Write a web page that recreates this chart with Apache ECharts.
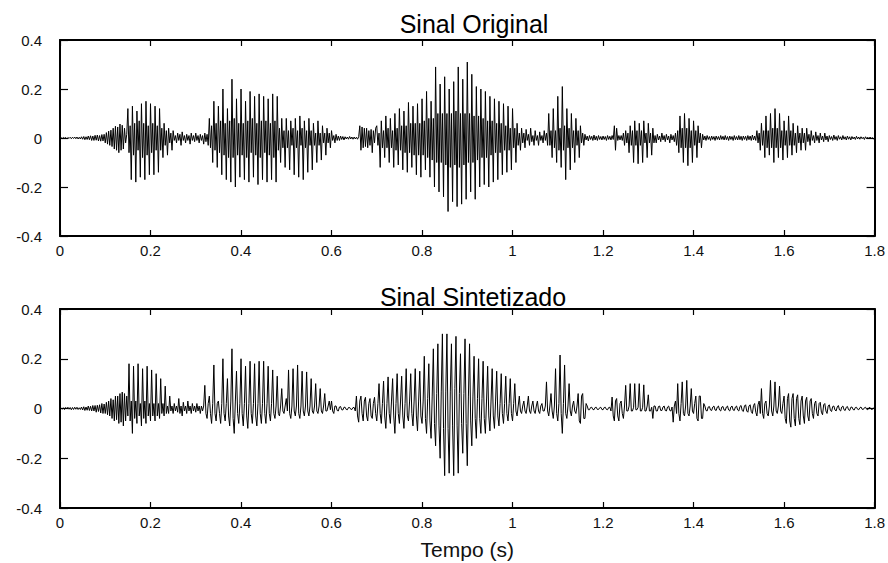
<!DOCTYPE html>
<html><head><meta charset="utf-8">
<script src="https://cdn.jsdelivr.net/npm/echarts@6/dist/echarts.min.js"></script>
<style>html,body{margin:0;padding:0;background:#fff}#chart{width:888px;height:563px}</style>
</head><body><div id="chart"></div>
<script>
// Sample spacing of the waveforms (s)
const sampleStep = 0.0025;

// Amplitude of the original speech signal (one row = 0.05 s)
const originalSignal = [
  0, 0.001, -0.002, 0.002, -0.001, 0.002, -0.003, 0.002, -0.002, 0.003, -0.003, 0.003, -0.002, 0.004, -0.003, 0.004, -0.004, 0.003, -0.004, 0.005,
  -0.005, 0.006, -0.007, 0.005, -0.006, 0.008, -0.007, 0.009, -0.01, 0.008, -0.01, 0.011, -0.009, 0.012, -0.012, 0.01, -0.013, 0.014, -0.012, 0.015,
  -0.02, 0.022, -0.025, 0.028, -0.03, 0.032, -0.035, 0.04, -0.045, 0.048, -0.05, 0.045, -0.06, 0.057, -0.05, 0.052, -0.045, 0.04, -0.02, 0.015,
  0.12, -0.06, 0.05, -0.17, 0.13, -0.07, 0.06, -0.18, 0.11, -0.05, 0.07, -0.16, 0.14, -0.08, 0.06, -0.17, 0.15, -0.07, 0.05, -0.15,
  0.14, -0.06, 0.06, -0.15, 0.13, -0.05, 0.05, -0.14, 0.12, -0.05, 0.04, -0.08, 0.06, -0.03, 0.03, -0.07, 0.04, -0.02, 0.02, -0.05,
  0.03, -0.01, 0.01, -0.02, 0.02, -0.01, 0.015, -0.03, 0.025, -0.01, 0.01, -0.02, 0.015, -0.01, 0.01, -0.025, 0.02, -0.01, 0.01, -0.015,
  0.02, -0.01, 0.01, -0.02, 0.015, -0.01, 0.01, -0.025, 0.02, -0.015, 0.015, -0.03, 0.08, -0.04, 0.05, -0.1, 0.15, -0.05, 0.06, -0.12,
  0.13, -0.06, 0.07, -0.15, 0.2, -0.07, 0.06, -0.17, 0.12, -0.08, 0.07, -0.18, 0.24, -0.08, 0.08, -0.2, 0.16, -0.07, 0.06, -0.16,
  0.2, -0.07, 0.06, -0.17, 0.15, -0.08, 0.07, -0.18, 0.19, -0.06, 0.08, -0.16, 0.17, -0.07, 0.06, -0.19, 0.18, -0.08, 0.07, -0.17,
  0.17, -0.06, 0.07, -0.18, 0.16, -0.07, 0.06, -0.17, 0.18, -0.08, 0.07, -0.18, 0.17, -0.05, 0.04, -0.1, 0.08, -0.04, 0.03, -0.12,
  0.08, -0.04, 0.03, -0.13, 0.07, -0.03, 0.04, -0.15, 0.08, -0.04, 0.03, -0.16, 0.09, -0.03, 0.04, -0.17, 0.07, -0.04, 0.03, -0.14,
  0.08, -0.03, 0.03, -0.13, 0.06, -0.03, 0.02, -0.1, 0.07, -0.03, 0.02, -0.09, 0.05, -0.02, 0.02, -0.07, 0.04, -0.02, 0.02, -0.04,
  0.03, -0.01, 0.01, -0.02, 0.015, -0.01, 0.008, -0.01, 0.008, -0.006, 0.006, -0.008, 0.005, -0.004, 0.004, -0.005, 0.006, -0.004, 0.004, -0.005,
  0.004, -0.004, 0.003, -0.005, 0.005, 0.05, -0.05, 0.045, -0.04, 0.04, -0.035, 0.04, -0.04, 0.03, -0.03, 0.035, -0.06, 0.03, -0.02, 0.04,
  0.05, -0.03, 0.02, -0.12, 0.07, -0.04, 0.03, -0.08, 0.09, -0.04, 0.04, -0.1, 0.08, -0.04, 0.03, -0.12, 0.1, -0.05, 0.04, -0.11,
  0.12, -0.05, 0.05, -0.13, 0.11, -0.06, 0.05, -0.14, 0.145, -0.06, 0.06, -0.12, 0.13, -0.07, 0.06, -0.15, 0.14, -0.07, 0.06, -0.16,
  0.16, -0.07, 0.07, -0.13, 0.19, -0.08, 0.08, -0.16, 0.15, -0.09, 0.08, -0.2, 0.29, -0.1, 0.1, -0.22, 0.22, -0.1, 0.1, -0.24,
  0.25, -0.11, 0.1, -0.3, 0.2, -0.12, 0.1, -0.26, 0.23, -0.11, 0.11, -0.28, 0.29, -0.12, 0.1, -0.27, 0.24, -0.11, 0.1, -0.25,
  0.31, -0.1, 0.1, -0.22, 0.26, -0.1, 0.09, -0.25, 0.21, -0.09, 0.09, -0.2, 0.2, -0.08, 0.08, -0.19, 0.19, -0.08, 0.07, -0.2,
  0.17, -0.07, 0.07, -0.18, 0.16, -0.06, 0.06, -0.17, 0.15, -0.06, 0.06, -0.15, 0.14, -0.05, 0.05, -0.14, 0.13, -0.05, 0.04, -0.13,
  0.12, -0.04, 0.04, -0.1, 0.06, -0.03, 0.02, -0.05, 0.04, -0.02, 0.02, -0.04, 0.035, -0.01, 0.015, -0.03, 0.04, -0.015, 0.01, -0.03,
  0.03, -0.01, 0.01, -0.03, 0.025, -0.01, 0.01, -0.02, 0.03, -0.01, 0.02, -0.03, 0.1, -0.03, 0.03, -0.08, 0.12, -0.04, 0.03, -0.1,
  0.17, -0.05, 0.04, -0.12, 0.21, -0.05, 0.05, -0.17, 0.12, -0.04, 0.04, -0.13, 0.1, -0.04, 0.03, -0.1, 0.08, -0.03, 0.03, -0.08,
  0.05, -0.02, 0.02, -0.03, 0.015, -0.008, 0.008, -0.012, 0.01, -0.006, 0.007, -0.01, 0.012, -0.008, 0.007, -0.01, 0.01, -0.006, 0.006, -0.008,
  0.008, -0.006, 0.006, -0.01, 0.01, -0.006, 0.007, -0.008, 0.01, -0.006, 0.05, -0.05, 0.04, -0.01, 0.01, -0.008, 0.01, -0.01, 0.02, -0.03,
  0.03, -0.02, 0.02, -0.06, 0.05, -0.03, 0.03, -0.1, 0.07, -0.03, 0.03, -0.105, 0.06, -0.03, 0.03, -0.1, 0.07, -0.02, 0.02, -0.08,
  0.06, -0.02, 0.02, -0.07, 0.04, -0.02, 0.01, -0.02, 0.015, -0.008, 0.008, -0.015, 0.02, -0.008, 0.01, -0.015, 0.015, -0.008, 0.008, -0.02,
  0.015, -0.008, 0.01, -0.015, 0.02, -0.03, 0.03, -0.06, 0.09, -0.04, 0.04, -0.1, 0.1, -0.04, 0.04, -0.113, 0.08, -0.04, 0.03, -0.1,
  0.07, -0.03, 0.03, -0.08, 0.05, -0.02, 0.02, -0.04, 0.015, -0.008, 0.008, -0.01, 0.01, -0.006, 0.006, -0.01, 0.008, -0.006, 0.006, -0.01,
  0.008, -0.006, 0.006, -0.008, 0.01, -0.006, 0.007, -0.008, 0.01, -0.007, 0.006, -0.01, 0.008, -0.006, 0.006, -0.01, 0.01, -0.007, 0.006, -0.008,
  0.01, -0.007, 0.007, -0.01, 0.008, -0.006, 0.007, -0.01, 0.01, -0.007, 0.008, -0.01, 0.012, -0.008, 0.008, -0.01, 0.03, -0.02, 0.02, -0.05,
  0.06, -0.03, 0.03, -0.08, 0.09, -0.04, 0.03, -0.07, 0.1, -0.04, 0.04, -0.1, 0.12, -0.04, 0.04, -0.08, 0.1, -0.04, 0.03, -0.09,
  0.07, -0.03, 0.03, -0.08, 0.09, -0.03, 0.03, -0.07, 0.06, -0.03, 0.02, -0.06, 0.05, -0.02, 0.02, -0.05, 0.04, -0.02, 0.02, -0.05,
  0.04, -0.015, 0.015, -0.03, 0.03, -0.01, 0.01, -0.02, 0.025, -0.01, 0.01, -0.02, 0.02, -0.008, 0.008, -0.015, 0.02, -0.008, 0.008, -0.015,
  0.01, -0.006, 0.006, -0.01, 0.012, -0.006, 0.006, -0.01, 0.01, -0.005, 0.005, -0.008, 0.01, -0.005, 0.005, -0.008, 0.008, -0.005, 0.005, -0.008,
  0.006, -0.004, 0.004, -0.006, 0.007, -0.004, 0.004, -0.005, 0.005, -0.003, 0.003, -0.006, 0.005, -0.003, 0.003, -0.004, 0.004, -0.003, 0.002, -0.004,
  0
];

// Amplitude of the synthesized signal (one row = 0.05 s)
const synthSignal = [
  0, 0.002, -0.003, 0.003, -0.004, 0.004, -0.002, 0.005, -0.003, 0.004, -0.005, 0.004, -0.004, 0.005, -0.003, 0.005, -0.004, 0.003, -0.004, 0.006,
  -0.006, 0.007, -0.008, 0.006, -0.007, 0.01, -0.008, 0.009, -0.01, 0.012, -0.01, 0.012, -0.015, 0.013, -0.012, 0.015, -0.018, 0.02, -0.02, 0.018,
  -0.02, 0.025, -0.025, 0.03, -0.03, 0.04, -0.04, 0.035, -0.05, 0.05, -0.045, 0.05, -0.06, 0.06, -0.055, 0.066, -0.07, 0.06, -0.05, 0.05,
  -0.03, 0.18, -0.05, 0.03, -0.1, 0.17, -0.04, 0.03, -0.06, 0.18, -0.03, 0.02, -0.07, 0.16, -0.04, 0.03, -0.06, 0.17, -0.03, 0.02,
  -0.05, 0.155, -0.03, 0.02, -0.05, 0.14, -0.03, 0.02, -0.04, 0.12, -0.02, 0.02, -0.03, 0.09, -0.02, 0.01, -0.02, 0.05, -0.01, 0.01,
  -0.02, 0.02, -0.01, 0.01, -0.015, 0.04, -0.02, 0.01, -0.03, 0.025, -0.01, 0.01, -0.02, 0.03, -0.01, 0.01, -0.02, 0.02, -0.01, 0.01,
  -0.015, 0.02, -0.01, 0.01, -0.02, 0.01, -0.01, 0.01, 0.093, -0.02, -0.04, 0.02, 0.05, -0.02, -0.06, 0.02, 0.175, -0.02, -0.05, 0.02,
  0.03, -0.02, -0.06, 0.02, 0.2, -0.02, -0.05, 0.02, 0.12, -0.03, -0.07, 0.03, 0.24, -0.04, -0.1, 0.03, 0.15, -0.02, -0.06, 0.02,
  0.2, -0.02, -0.07, 0.02, 0.17, -0.03, -0.08, 0.02, 0.19, -0.02, -0.06, 0.02, 0.18, -0.03, -0.07, 0.02, 0.19, -0.02, -0.06, 0.02,
  0.19, -0.02, -0.06, 0.02, 0.17, -0.02, -0.05, 0.02, 0.155, -0.02, -0.04, 0.01, 0.13, -0.02, -0.03, 0.01, 0.08, -0.01, -0.02, 0.01,
  0.04, -0.01, 0.155, -0.02, -0.04, 0.01, 0.16, -0.01, -0.03, 0.01, 0.175, -0.02, -0.04, 0.01, 0.15, -0.01, -0.03, 0.01, 0.147, -0.01,
  -0.03, 0.01, 0.12, -0.01, -0.02, 0.01, 0.1, -0.01, -0.02, 0.01, 0.08, -0.01, -0.02, 0.01, 0.06, -0.01, -0.01, 0.01, 0.03, -0.005,
  0.03, -0.01, -0.02, 0.01, 0.01, -0.008, -0.01, 0.006, 0.008, -0.005, -0.006, 0.005, 0.005, -0.004, -0.005, 0.004, 0.004, -0.003, -0.004, 0.004,
  0.004, -0.01, 0.05, -0.03, -0.055, 0.03, 0.05, -0.02, -0.05, 0.03, 0.045, -0.03, -0.05, 0.02, 0.04, -0.03, -0.04, 0.02, 0.045, -0.02,
  -0.05, 0.02, 0.1, -0.02, -0.06, 0.02, 0.11, -0.03, -0.08, 0.02, 0.127, -0.02, -0.06, 0.03, 0.12, -0.03, -0.1, 0.02, 0.14, -0.02,
  -0.06, 0.03, 0.13, -0.03, -0.08, 0.02, 0.16, -0.03, -0.05, 0.03, 0.14, -0.02, -0.07, 0.03, 0.16, -0.03, -0.09, 0.03, 0.15, -0.03,
  -0.06, 0.03, 0.21, -0.04, -0.1, 0.04, 0.18, -0.05, -0.12, 0.05, 0.24, -0.06, -0.15, 0.06, 0.26, -0.07, -0.2, 0.07, 0.3, -0.08,
  -0.27, 0.07, 0.3, -0.08, -0.26, 0.07, 0.26, -0.07, -0.27, 0.08, 0.29, -0.07, -0.26, 0.06, 0.22, -0.06, -0.18, 0.06, 0.28, -0.06,
  -0.23, 0.05, 0.26, -0.05, -0.15, 0.05, 0.21, -0.04, -0.12, 0.04, 0.2, -0.04, -0.1, 0.04, 0.19, -0.04, -0.1, 0.03, 0.17, -0.03,
  -0.09, 0.03, 0.16, -0.03, -0.08, 0.03, 0.15, -0.03, -0.07, 0.02, 0.14, -0.02, -0.06, 0.02, 0.13, -0.02, -0.05, 0.02, 0.12, -0.02,
  -0.05, 0.02, 0.1, -0.01, -0.03, 0.01, 0.05, -0.01, -0.02, 0.01, 0.03, -0.01, -0.02, 0.01, 0.05, -0.01, -0.02, 0.01, 0.03, -0.01,
  -0.02, 0.01, 0.03, -0.01, -0.02, 0.01, 0.02, -0.01, -0.01, 0.01, 0.107, -0.01, -0.03, 0.01, 0.06, -0.01, -0.04, 0.01, 0.16, -0.02,
  -0.05, 0.02, 0.215, -0.02, -0.1, 0.02, 0.175, -0.02, -0.04, 0.01, 0.1, -0.01, -0.03, 0.01, 0.03, -0.01, -0.02, 0.01, 0.06, -0.05,
  -0.06, 0.05, 0.06, -0.04, -0.04, 0.02, 0.01, -0.005, -0.005, 0.004, 0.005, -0.004, -0.005, 0.004, 0.005, -0.004, -0.004, 0.003, 0.005, -0.004,
  -0.005, 0.004, 0.005, -0.004, -0.005, 0.004, 0.005, -0.01, 0.046, -0.03, -0.05, 0.03, 0.04, -0.03, -0.05, 0.02, 0.03, -0.02, -0.04, 0.01,
  0.093, -0.01, -0.01, 0.01, 0.1, -0.01, -0.01, 0.005, 0.1, -0.005, -0.005, 0.005, 0.1, -0.01, -0.01, 0.005, 0.095, -0.01, -0.01, 0.01,
  0.055, -0.01, -0.01, 0.005, -0.04, 0.01, 0.01, -0.01, -0.01, 0.008, 0.01, -0.008, -0.008, 0.006, 0.01, -0.008, -0.01, 0.006, 0.01, -0.008,
  -0.01, 0.006, -0.055, 0.01, 0.03, -0.02, 0.1, -0.02, -0.05, 0.02, 0.107, -0.02, -0.03, 0.01, 0.113, -0.02, -0.03, 0.01, 0.08, -0.01,
  -0.02, 0.02, 0.05, -0.04, -0.05, 0.05, 0.05, -0.04, -0.04, 0.02, 0.01, -0.008, -0.01, 0.006, 0.008, -0.006, -0.008, 0.006, 0.01, -0.006,
  -0.008, 0.006, 0.01, -0.006, -0.01, 0.006, 0.008, -0.006, -0.008, 0.006, 0.01, -0.006, -0.01, 0.006, 0.01, -0.006, -0.008, 0.006, 0.01, -0.006,
  -0.01, 0.008, 0.012, -0.008, -0.012, 0.01, 0.015, -0.01, -0.015, 0.01, 0.015, -0.012, -0.02, 0.012, 0.02, -0.015, -0.03, 0.015, 0.03, -0.02,
  0.08, -0.02, -0.04, 0.02, 0.03, -0.02, -0.03, 0.01, 0.113, -0.01, -0.03, 0.01, 0.107, -0.01, -0.02, 0.01, 0.09, -0.01, -0.02, 0.02,
  0.05, -0.04, -0.06, 0.04, 0.06, -0.05, -0.075, 0.04, 0.06, -0.04, -0.07, 0.04, 0.055, -0.04, -0.065, 0.03, 0.05, -0.03, -0.06, 0.03,
  0.045, -0.03, -0.05, 0.03, 0.04, -0.02, -0.04, 0.02, 0.03, -0.02, -0.03, 0.02, 0.025, -0.015, -0.025, 0.015, 0.02, -0.01, -0.02, 0.01,
  0.015, -0.008, -0.012, 0.008, 0.01, -0.006, -0.01, 0.006, 0.012, -0.006, -0.01, 0.006, 0.01, -0.005, -0.008, 0.005, 0.008, -0.005, -0.008, 0.005,
  0.006, -0.004, -0.006, 0.004, 0.005, -0.003, -0.005, 0.003, 0.006, -0.003, -0.004, 0.003, 0.005, -0.003, -0.005, 0.003, 0.004, -0.003, -0.004, 0.002,
  0
];

const xTickValues = [0, 0.2, 0.4, 0.6, 0.8, 1, 1.2, 1.4, 1.6, 1.8];
const xTickLabels = ['0', '0.2', '0.4', '0.6', '0.8', '1', '1.2', '1.4', '1.6', '1.8'];
const yTickValues = [-0.4, -0.2, 0, 0.2, 0.4];
const yTickLabels = ['-0.4', '-0.2', '0', '0.2', '0.4'];
const panelTitles = ['Sinal Original', 'Sinal Sintetizado'];
const xAxisTitle = 'Tempo (s)';

const FONT = '"Liberation Sans", Arial, Helvetica, sans-serif';

function labelFor(values, labels) {
  return function (v) {
    const i = values.findIndex(t => Math.abs(t - v) < 1e-9);
    return i >= 0 ? labels[i] : '';
  };
}

function toPoints(signal) {
  return signal.map((y, i) => [i * sampleStep, y]);
}

const grids = [
  { left: 60, top: 40, width: 817, height: 196 },
  { left: 60, top: 309, width: 817, height: 199 }
];

function xAxisDef(gi, position, showLabel, name) {
  const ax = {
    type: 'value', gridIndex: gi, position: position,
    min: xTickValues[0], max: xTickValues[xTickValues.length - 1], interval: 0.2,
    axisLine: { show: true, onZero: false, lineStyle: { color: '#000', width: 2 } },
    axisTick: { show: true, inside: true, length: 6, lineStyle: { color: '#000', width: 1.2 } },
    axisLabel: { show: showLabel, margin: 7, fontSize: 15, color: '#111', fontFamily: FONT,
      formatter: labelFor(xTickValues, xTickLabels) },
    splitLine: { show: false }
  };
  if (name) {
    ax.name = name;
    ax.nameLocation = 'middle';
    ax.nameGap = 31;
    ax.nameTextStyle = { fontSize: 21, color: '#111', fontFamily: FONT };
  }
  return ax;
}

function yAxisDef(gi, position, showLabel) {
  return {
    type: 'value', gridIndex: gi, position: position,
    min: -0.4, max: 0.4, interval: 0.2,
    axisLine: { show: true, onZero: false, lineStyle: { color: '#000', width: 2 } },
    axisTick: { show: true, inside: true, length: 8, lineStyle: { color: '#000', width: 1.2 } },
    axisLabel: { show: showLabel, margin: 18, fontSize: 15, color: '#111', fontFamily: FONT,
      formatter: labelFor(yTickValues, yTickLabels) },
    splitLine: { show: false }
  };
}

const chart = echarts.init(document.getElementById('chart'), null, { renderer: 'svg' });
chart.setOption({
  backgroundColor: '#fff',
  animation: false,
  title: [
    { text: panelTitles[0], left: 469, top: 6, textAlign: 'center',
      textStyle: { fontSize: 25, fontWeight: 'normal', color: '#000', fontFamily: FONT } },
    { text: panelTitles[1], left: 468, top: 279, textAlign: 'center',
      textStyle: { fontSize: 25, fontWeight: 'normal', color: '#000', fontFamily: FONT } }
  ],
  grid: grids,
  xAxis: [
    xAxisDef(0, 'bottom', true),
    xAxisDef(0, 'top', false),
    xAxisDef(1, 'bottom', true, xAxisTitle),
    xAxisDef(1, 'top', false)
  ],
  yAxis: [
    yAxisDef(0, 'left', true),
    yAxisDef(0, 'right', false),
    yAxisDef(1, 'left', true),
    yAxisDef(1, 'right', false)
  ],
  series: [
    { type: 'line', xAxisIndex: 0, yAxisIndex: 0, data: toPoints(originalSignal),
      symbol: 'none', silent: true, lineStyle: { color: '#000', width: 1 } },
    { type: 'line', xAxisIndex: 2, yAxisIndex: 2, data: toPoints(synthSignal),
      symbol: 'none', silent: true, lineStyle: { color: '#000', width: 1 } }
  ]
});
</script>
</body></html>
